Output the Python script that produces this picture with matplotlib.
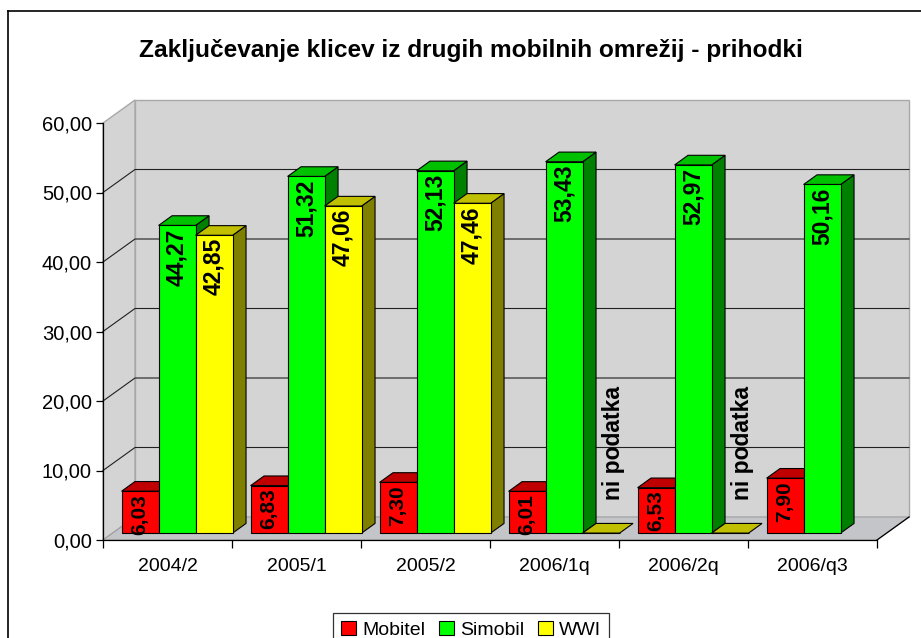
import matplotlib.pyplot as plt
import numpy as np
from matplotlib.patches import Polygon
from matplotlib.lines import Line2D

plt.rcParams['font.family'] = ['Liberation Sans', 'DejaVu Sans']

# data
categories = ['2004/2', '2005/1', '2005/2', '2006/1q', '2006/2q', '2006/q3']
series = ['Mobitel', 'Simobil', 'WWI']
mobitel = [6.03, 6.83, 7.30, 6.01, 6.53, 7.90]
simobil = [44.27, 51.32, 52.13, 53.43, 52.97, 50.16]
wwi = [42.85, 47.06, 47.46, 0.0, 0.0, np.nan]   # 0 = "ni podatka", nan = no bar
no_data_text = 'ni podatka'
yticks = [0, 10, 20, 30, 40, 50, 60]
title = 'Zaključevanje klicev iz drugih mobilnih omrežij - prihodki'

front = ['#FF0000', '#00FF00', '#FFFF00']
top_c = ['#C00000', '#00C000', '#C0C000']
side_c = ['#800000', '#008000', '#808000']
lab_size = [15, 16.5, 16.5]

W, H = 921, 638
fig = plt.figure(figsize=(W / 100, H / 100), dpi=100)
ax = fig.add_axes([103 / W, 1 - 540 / H, 774 / W, 417 / H])
ncat = len(categories)
ymax = 60
ax.set_xlim(0, ncat)
ax.set_ylim(0, ymax)

# depth of the 3d box in data units (from pixels)
px_x = ncat / 774
px_y = ymax / 417
DX, DY = 32 * px_x, 23 * px_y
d0, d1 = 0.30, 0.72   # depth range of bars
bw = 37 * px_x

# walls and floor
ax.add_patch(Polygon([(0, 0), (ncat, 0), (ncat + DX, DY), (DX, DY)], closed=True,
                     fc='#C3C5C8', ec='#A0A0A0', lw=0.8, zorder=0.5, clip_on=False))
ax.add_patch(Polygon([(DX, DY), (ncat + DX, DY), (ncat + DX, ymax + DY), (DX, ymax + DY)],
                     closed=True, fc='#D4D4D4', ec='#A8A8A8', lw=1.0, zorder=0.4, clip_on=False))
ax.add_patch(Polygon([(0, 0), (DX, DY), (DX, ymax + DY), (0, ymax)], closed=True,
                     fc='#D4D4D4', ec='#A8A8A8', lw=1.0, zorder=0.45, clip_on=False))
for v in yticks[1:-1]:
    ax.plot([0, DX, ncat + DX], [v, v + DY, v + DY], color='#202020', lw=0.8,
            zorder=0.6, clip_on=False)
ax.plot([ncat, ncat + DX], [0, DY], color='black', lw=0.9, zorder=0.7, clip_on=False)

# bars
values = [mobitel, simobil, wwi]
for k, vals in enumerate(values):
    lefts = np.arange(ncat) + 0.5 + d0 * DX - 1.5 * bw + k * bw
    v_arr = np.nan_to_num(np.array(vals, dtype=float), nan=0.0)
    bars = ax.bar(lefts, v_arr, width=bw, bottom=d0 * DY, align='edge',
                  color=front[k], edgecolor='black', linewidth=0.8, label=series[k])
    for i, (b, v) in enumerate(zip(bars, vals)):
        z = 2 + i * 0.1 + k * 0.01
        b.set_zorder(z + 0.003)
        if np.isnan(v):
            b.set_visible(False)
            continue
        x0 = lefts[i]
        x1 = x0 + bw
        yb = d0 * DY
        yt = v + d0 * DY
        ddx, ddy = (d1 - d0) * DX, (d1 - d0) * DY
        if v > 0:
            ax.add_patch(Polygon([(x1, yb), (x1 + ddx, yb + ddy), (x1 + ddx, yt + ddy), (x1, yt)],
                                 closed=True, fc=side_c[k], ec='black', lw=0.8, zorder=z))
        ax.add_patch(Polygon([(x0, yt), (x1, yt), (x1 + ddx, yt + ddy), (x0 + ddx, yt + ddy)],
                             closed=True, fc=top_c[k], ec='black', lw=0.8, zorder=z + 0.001))
        if v > 0:
            lab = f'{v:.2f}'.replace('.', ',')
            ax.annotate(lab, xy=(x0 + bw / 2, yt), xytext=(0, -2), textcoords='offset points',
                        rotation=90, ha='center', va='top', fontsize=lab_size[k],
                        fontweight='bold', zorder=10)
        else:
            ax.annotate(no_data_text, xy=(x0 + bw / 2 + ddx / 2, yt + ddy / 2), xytext=(4, 20),
                        textcoords='offset points', rotation=90, ha='center', va='bottom',
                        fontsize=16.5, fontweight='bold', zorder=10)

# axes
for s in ['top', 'right']:
    ax.spines[s].set_visible(False)
ax.spines['left'].set_linewidth(0.9)
ax.spines['bottom'].set_linewidth(0.9)
ax.spines['left'].set_zorder(5)
ax.spines['bottom'].set_zorder(5)
ax.set_yticks(yticks)
ax.set_yticklabels([f'{v:.2f}'.replace('.', ',') for v in yticks], fontsize=14.5)
ax.tick_params(axis='y', length=5, width=0.9, pad=3)
ax.set_xticks(np.arange(ncat + 1))
ax.set_xticklabels([])
ax.tick_params(axis='x', which='major', length=6, width=0.9)
ax.set_xticks(np.arange(ncat) + 0.5, minor=True)
ax.set_xticklabels(categories, minor=True, fontsize=14)
ax.tick_params(axis='x', which='minor', length=0, pad=13)
ax.set_facecolor('none')

fig.text(471 / W, 1 - 50 / H, title, ha='center', va='center', fontsize=17.6, fontweight='bold')

# chart border (cropped at right and bottom)
fig.add_artist(Line2D([8 / W, 8 / W], [-0.1, 1 - 11 / H], color='black', lw=1.2,
                      transform=fig.transFigure))
fig.add_artist(Line2D([8 / W, 1.1], [1 - 11 / H, 1 - 11 / H], color='black', lw=1.2,
                      transform=fig.transFigure))

leg = fig.legend(loc='upper center', bbox_to_anchor=(471 / W, 1 - 603 / H), ncol=3,
                 fontsize=14, frameon=True, fancybox=False, edgecolor='black',
                 handlelength=0.8, handleheight=0.8, handletextpad=0.3,
                 columnspacing=0.7, borderpad=0.4)
leg.get_frame().set_linewidth(0.9)

fig.savefig('out.png', dpi=100)
